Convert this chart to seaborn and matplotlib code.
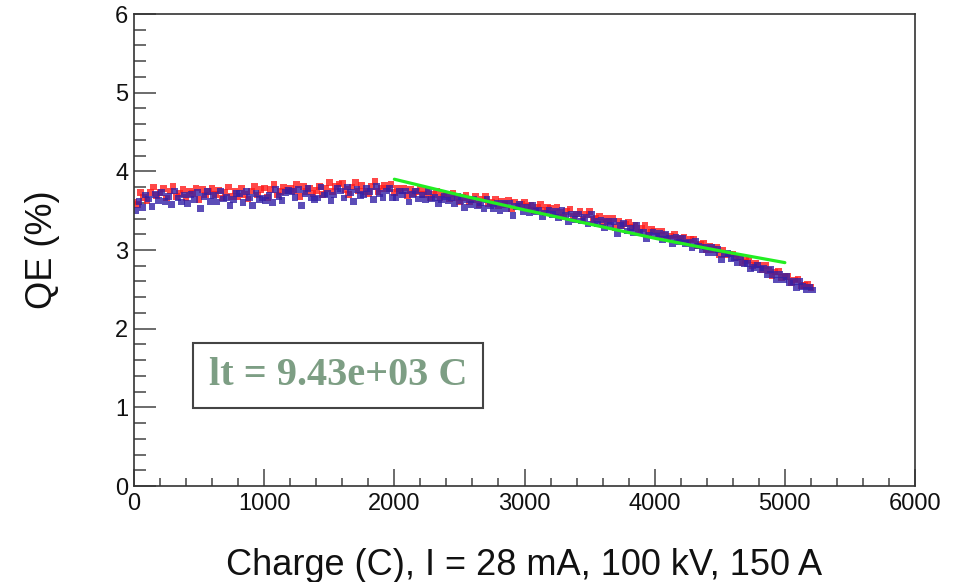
import numpy as np
import pandas as pd
import matplotlib
matplotlib.use("Agg")
import matplotlib.pyplot as plt
from matplotlib.patches import Rectangle
from matplotlib.ticker import MultipleLocator
import seaborn as sns

sns.set_theme(style="white")
plt.rcParams['font.family'] = ['Liberation Sans', 'DejaVu Sans']

# QE readings (%) every 25 C; blue readings sit 12.5 C later
red_charge = np.arange(0, 5201, 25)
blue_charge = red_charge + 12.5

red_qe = [
    3.61, 3.58, 3.73, 3.67, 3.63, 3.73, 3.80, 3.69,
    3.73, 3.78, 3.66, 3.75, 3.81, 3.68, 3.72, 3.77,
    3.67, 3.75, 3.72, 3.79, 3.64, 3.77, 3.70, 3.74,
    3.78, 3.71, 3.76, 3.66, 3.73, 3.80, 3.68, 3.75,
    3.68, 3.79, 3.71, 3.65, 3.75, 3.81, 3.70, 3.77,
    3.79, 3.67, 3.77, 3.83, 3.70, 3.74, 3.80, 3.76,
    3.78, 3.75, 3.83, 3.68, 3.81, 3.74, 3.79, 3.72,
    3.76, 3.81, 3.71, 3.78, 3.86, 3.74, 3.81, 3.84,
    3.85, 3.77, 3.71, 3.80, 3.86, 3.75, 3.82, 3.74,
    3.72, 3.81, 3.87, 3.74, 3.78, 3.82, 3.78, 3.83,
    3.73, 3.78, 3.75, 3.79, 3.69, 3.77, 3.72, 3.74,
    3.77, 3.71, 3.74, 3.66, 3.71, 3.75, 3.67, 3.71,
    3.71, 3.65, 3.72, 3.66, 3.61, 3.67, 3.70, 3.62,
    3.64, 3.68, 3.58, 3.65, 3.68, 3.59, 3.60, 3.64,
    3.56, 3.62, 3.58, 3.63, 3.52, 3.61, 3.55, 3.58,
    3.61, 3.55, 3.57, 3.50, 3.54, 3.58, 3.50, 3.54,
    3.53, 3.47, 3.54, 3.48, 3.42, 3.49, 3.52, 3.43,
    3.46, 3.49, 3.39, 3.45, 3.49, 3.39, 3.40, 3.43,
    3.35, 3.40, 3.36, 3.40, 3.29, 3.37, 3.31, 3.33,
    3.35, 3.29, 3.31, 3.23, 3.27, 3.31, 3.22, 3.26,
    3.24, 3.19, 3.24, 3.19, 3.14, 3.18, 3.20, 3.13,
    3.15, 3.16, 3.09, 3.13, 3.14, 3.06, 3.07, 3.08,
    3.01, 3.05, 3.01, 3.04, 2.94, 3.00, 2.94, 2.95,
    2.95, 2.90, 2.91, 2.84, 2.87, 2.88, 2.80, 2.83,
    2.81, 2.75, 2.80, 2.74, 2.68, 2.72, 2.73, 2.65,
    2.66, 2.66, 2.59, 2.62, 2.63, 2.55, 2.55, 2.57,
    2.52,
]

blue_qe = [
    3.50, 3.62, 3.54, 3.70, 3.65, 3.55, 3.71, 3.63,
    3.73, 3.62, 3.68, 3.58, 3.75, 3.66, 3.61, 3.70,
    3.59, 3.71, 3.64, 3.73, 3.53, 3.68, 3.74, 3.62,
    3.69, 3.61, 3.75, 3.65, 3.67, 3.57, 3.64, 3.72,
    3.72, 3.60, 3.74, 3.67, 3.57, 3.72, 3.64, 3.66,
    3.63, 3.69, 3.60, 3.77, 3.68, 3.63, 3.73, 3.76,
    3.74, 3.67, 3.77, 3.57, 3.72, 3.78, 3.67, 3.64,
    3.66, 3.80, 3.70, 3.72, 3.63, 3.70, 3.78, 3.75,
    3.66, 3.80, 3.73, 3.62, 3.77, 3.69, 3.71, 3.78,
    3.74, 3.64, 3.81, 3.72, 3.67, 3.75, 3.78, 3.67,
    3.67, 3.75, 3.70, 3.75, 3.61, 3.71, 3.75, 3.65,
    3.70, 3.64, 3.74, 3.65, 3.67, 3.59, 3.64, 3.68,
    3.63, 3.67, 3.59, 3.68, 3.63, 3.54, 3.64, 3.58,
    3.64, 3.56, 3.60, 3.53, 3.64, 3.57, 3.53, 3.59,
    3.50, 3.59, 3.53, 3.59, 3.44, 3.55, 3.58, 3.49,
    3.54, 3.48, 3.57, 3.49, 3.50, 3.42, 3.47, 3.51,
    3.45, 3.49, 3.41, 3.50, 3.44, 3.36, 3.46, 3.39,
    3.46, 3.37, 3.41, 3.33, 3.45, 3.37, 3.33, 3.38,
    3.29, 3.37, 3.31, 3.36, 3.21, 3.31, 3.34, 3.24,
    3.28, 3.22, 3.31, 3.22, 3.23, 3.15, 3.19, 3.23,
    3.18, 3.21, 3.13, 3.20, 3.15, 3.08, 3.16, 3.10,
    3.15, 3.08, 3.10, 3.03, 3.11, 3.05, 3.01, 3.04,
    2.97, 3.03, 2.97, 3.01, 2.88, 2.95, 2.96, 2.89,
    2.90, 2.84, 2.91, 2.83, 2.83, 2.76, 2.78, 2.81,
    2.75, 2.77, 2.69, 2.75, 2.69, 2.62, 2.69, 2.62,
    2.66, 2.58, 2.60, 2.52, 2.60, 2.54, 2.49, 2.53,
    2.49,
]

# exponential fit, lifetime 9.43e+03 C, over 2000-5000 C
fit_charge = [2000, 2500, 3000, 3500, 4000, 4500, 5000]
fit_qe = [3.90, 3.70, 3.51, 3.33, 3.15, 2.99, 2.84]
lifetime_label = "lt = 9.43e+03 C"

df = pd.concat([
    pd.DataFrame({"charge": red_charge, "qe": red_qe, "run": "red"}),
    pd.DataFrame({"charge": blue_charge, "qe": blue_qe, "run": "blue"}),
])
fit_df = pd.DataFrame({"charge": fit_charge, "qe": fit_qe})

fig = plt.figure(figsize=(9.65, 5.82), dpi=100)
ax = fig.add_axes([0.1389, 0.1649, 0.8093, 0.811])

sns.scatterplot(data=df, x="charge", y="qe", hue="run",
                palette={"red": "#ff1a1a", "blue": "#3320a6"},
                s=23, marker="s", linewidth=0, alpha=0.8, legend=False, ax=ax)
sns.lineplot(data=fit_df, x="charge", y="qe", color="#22ee22", linewidth=2.3, ax=ax)

ax.set_xlim(0, 6000)
ax.set_ylim(0, 6)
ax.xaxis.set_major_locator(MultipleLocator(1000))
ax.xaxis.set_minor_locator(MultipleLocator(200))
ax.yaxis.set_major_locator(MultipleLocator(1))
ax.yaxis.set_minor_locator(MultipleLocator(0.2))

for s in ax.spines.values():
    s.set_color("#333333")
    s.set_linewidth(1.2)

ax.tick_params(which="both", left=True, bottom=True, top=False, right=False)
ax.tick_params(axis="y", which="major", direction="in", length=15.5, width=1.1,
               color="#444444", labelsize=17, pad=4, labelcolor="#111111")
ax.tick_params(axis="y", which="minor", direction="in", length=8.5, width=1.1, color="#444444")
ax.tick_params(axis="x", which="major", direction="in", length=12, width=1.1,
               color="#444444", labelsize=17, pad=5, labelcolor="#111111")
ax.tick_params(axis="x", which="minor", direction="in", length=6, width=1.1, color="#444444")

ax.set_xlabel("Charge (C), I = 28 mA, 100 kV, 150 A", fontsize=26, color="#111111")
ax.set_ylabel("QE (%)", fontsize=26, color="#111111")
ax.xaxis.set_label_coords(0.5, -0.132)
ax.yaxis.set_label_coords(-0.095, 0.5)

ax.add_patch(Rectangle((0.0755, 0.165), 0.3715, 0.138, transform=ax.transAxes,
                       facecolor="white", edgecolor="#444444", linewidth=1.5, zorder=5))
ax.text(0.261, 0.234, lifetime_label, transform=ax.transAxes, ha="center", va="center",
        fontsize=29, fontweight="bold", color="#7d9e84", family=["Liberation Serif"], zorder=6)

fig.savefig("out.png", dpi=100)
